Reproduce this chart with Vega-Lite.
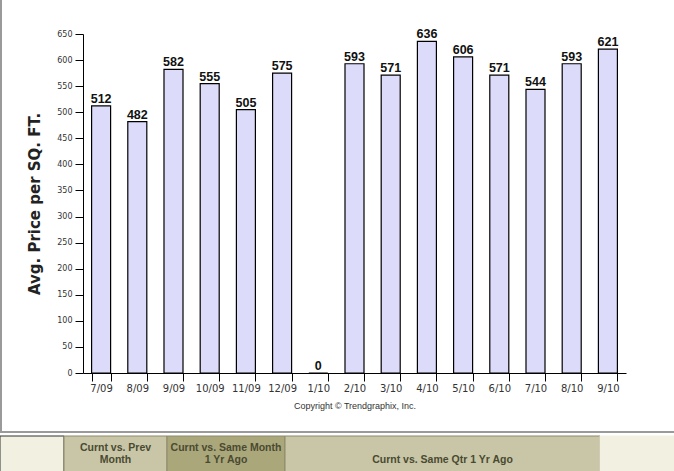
{
  "$schema": "https://vega.github.io/schema/vega-lite/v6.json",
  "width": 674,
  "height": 471,
  "autosize": "none",
  "padding": 0,
  "background": "white",
  "config": {"view": {"stroke": null}},
  "datasets": {
    "bars": [
      {"month": "7/09", "value": 512},
      {"month": "8/09", "value": 482},
      {"month": "9/09", "value": 582},
      {"month": "10/09", "value": 555},
      {"month": "11/09", "value": 505},
      {"month": "12/09", "value": 575},
      {"month": "1/10", "value": 0},
      {"month": "2/10", "value": 593},
      {"month": "3/10", "value": 571},
      {"month": "4/10", "value": 636},
      {"month": "5/10", "value": 606},
      {"month": "6/10", "value": 571},
      {"month": "7/10", "value": 544},
      {"month": "8/10", "value": 593},
      {"month": "9/10", "value": 621}
    ],
    "tabs": [
      {"label": "", "from": 0, "to": 64, "state": "blank"},
      {"label": "Curnt vs. Prev\nMonth", "from": 64, "to": 167, "state": "tab"},
      {"label": "Curnt vs. Same Month\n1 Yr Ago", "from": 167, "to": 285, "state": "active"},
      {"label": "\nCurnt vs. Same Qtr 1 Yr Ago", "from": 285, "to": 600, "state": "tab"},
      {"label": "", "from": 600, "to": 674, "state": "filler"}
    ]
  },
  "layer": [
    {
      "data": {"name": "bars"},
      "encoding": {
        "x": {
          "field": "month", "type": "ordinal", "sort": null,
          "scale": {"range": [83, 626], "paddingInner": 0.475, "paddingOuter": 0.2375},
          "axis": {
            "orient": "bottom", "offset": -98, "tickBand": "extent",
            "domainColor": "#000", "tickColor": "#000", "tickSize": 8,
            "labelFont": "DejaVu Sans", "labelFontSize": 10, "labelColor": "#333",
            "labelPadding": 2, "labelAngle": 0,
            "title": "Copyright © Trendgraphix, Inc.",
            "titleFont": "Liberation Sans", "titleFontSize": 9, "titleFontWeight": "normal",
            "titleColor": "#333", "titlePadding": 8, "grid": false
          }
        },
        "y": {
          "field": "value", "type": "quantitative",
          "scale": {"domain": [0, 650], "range": [373, 34], "nice": false},
          "axis": {
            "orient": "left", "offset": -83,
            "values": [0, 50, 100, 150, 200, 250, 300, 350, 400, 450, 500, 550, 600, 650],
            "tickSize": 8, "domainColor": "#000", "tickColor": "#000",
            "labelFont": "DejaVu Sans", "labelFontSize": 8, "labelColor": "#333", "labelPadding": 3,
            "title": "Avg. Price per SQ. FT.",
            "titleFont": "DejaVu Sans", "titleFontSize": 15, "titleFontWeight": "bold",
            "titleColor": "#222", "titlePadding": 14, "grid": false
          }
        }
      },
      "layer": [
        {"mark": {"type": "bar", "fill": "#dcdcfa", "stroke": "#000", "strokeWidth": 1.2}},
        {
          "mark": {"type": "text", "baseline": "alphabetic", "dy": -3, "font": "Liberation Sans", "fontSize": 12.5, "fontWeight": "bold", "color": "#111"},
          "encoding": {"text": {"field": "value", "type": "quantitative"}}
        }
      ]
    },
    {
      "data": {"name": "tabs"},
      "layer": [
        {
          "mark": {"type": "rect", "strokeWidth": 1},
          "encoding": {
            "x": {"field": "from", "type": "quantitative", "scale": {"domain": [0, 674], "range": [0, 674]}, "axis": null},
            "x2": {"field": "to"},
            "y": {"datum": 436, "type": "quantitative", "scale": {"domain": [0, 471], "range": [0, 471]}, "axis": null},
            "y2": {"datum": 472},
            "fill": {"field": "state", "type": "nominal", "scale": {"domain": ["blank", "tab", "active", "filler"], "range": ["#f2f0e1", "#c8c6a6", "#aaa77b", "#f2f0e1"]}, "legend": null},
            "stroke": {"field": "state", "type": "nominal", "scale": {"domain": ["blank", "tab", "active", "filler"], "range": ["#333333", "#8c8a6a", "#8c8a6a", "#f2f0e1"]}, "legend": null}
          }
        },
        {
          "transform": [{"calculate": "(datum.from + datum.to) / 2", "as": "mid"}],
          "mark": {"type": "text", "baseline": "top", "align": "center", "lineBreak": "\n", "font": "Liberation Sans", "fontSize": 10.5, "fontWeight": "bold", "color": "#4a4a32", "lineHeight": 12},
          "encoding": {
            "x": {"field": "mid", "type": "quantitative", "scale": {"domain": [0, 674], "range": [0, 674]}, "axis": null},
            "y": {"datum": 443, "type": "quantitative", "scale": {"domain": [0, 471], "range": [0, 471]}, "axis": null},
            "text": {"field": "label"}
          }
        },
        {
          "mark": {"type": "rule", "color": "#9a9a9a", "strokeWidth": 1.5},
          "encoding": {
            "x": {"datum": 1, "type": "quantitative", "scale": {"domain": [0, 674], "range": [0, 674]}, "axis": null},
            "y": {"datum": 0, "type": "quantitative", "scale": {"domain": [0, 471], "range": [0, 471]}, "axis": null},
            "y2": {"datum": 432}
          }
        },
        {
          "mark": {"type": "rule", "color": "#9a9a9a", "strokeWidth": 1.5},
          "encoding": {
            "x": {"datum": 0, "type": "quantitative", "scale": {"domain": [0, 674], "range": [0, 674]}, "axis": null},
            "x2": {"datum": 674},
            "y": {"datum": 432, "type": "quantitative", "scale": {"domain": [0, 471], "range": [0, 471]}, "axis": null}
          }
        }
      ]
    }
  ],
  "resolve": {"scale": {"x": "independent", "y": "independent", "fill": "independent", "stroke": "independent"}, "axis": {"x": "independent", "y": "independent"}}
}
